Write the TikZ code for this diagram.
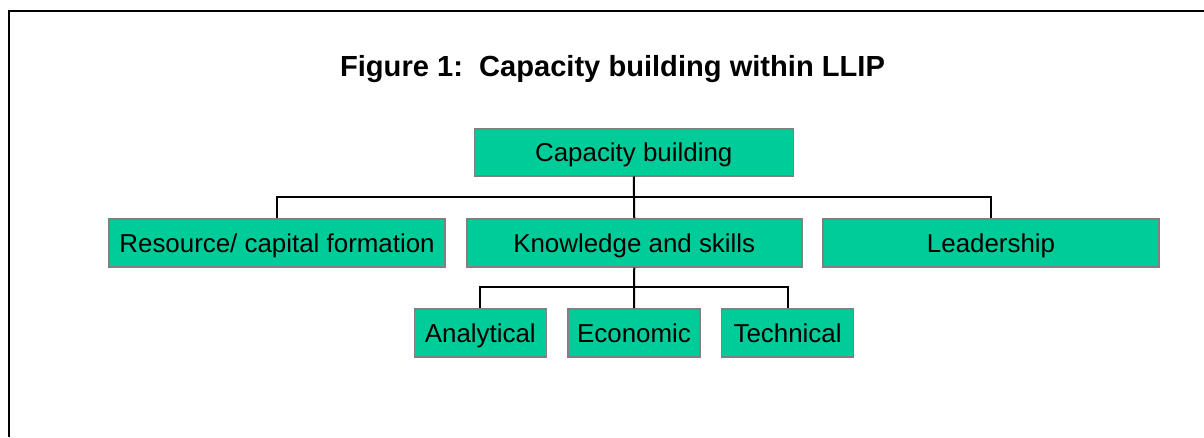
\documentclass[tikz,border=0pt]{standalone}
\usepackage{fontspec}
\setmainfont{Liberation Sans}
\definecolor{boxgreen}{RGB}{0,204,153}
\definecolor{boxedge}{RGB}{128,128,128}
\tikzset{
  cbox/.style={draw=boxedge, line width=1.5pt, fill=boxgreen, inner sep=0pt,
    font=\fontsize{25.9}{30}\selectfont, text height=18.5pt, text depth=0pt, anchor=north west},
  conn/.style={draw=black, line width=2pt},
}
\begin{document}
\begin{tikzpicture}[x=1pt,y=-1pt]
\useasboundingbox (0,0) rectangle (1204,437);
\draw[line width=2.2pt] (1204,11) -- (9,11) -- (9,437);
\node[anchor=base, font=\fontsize{29.1}{34}\selectfont\bfseries] (title) at (612.5,76) {Figure 1:\ \ Capacity building within LLIP};
\node[cbox, minimum width=319pt, minimum height=47pt] (cb) at (473.5,128) {Capacity building};
\node[cbox, minimum width=336pt, minimum height=48pt] (res) at (108.3,218) {Resource/ capital formation};
\node[cbox, minimum width=335pt, minimum height=48pt] (ks) at (466,218) {Knowledge and skills};
\node[cbox, minimum width=336pt, minimum height=48pt] (lead) at (822.3,218) {Leadership};
\node[cbox, minimum width=132pt, minimum height=48pt] (an) at (413.5,308) {Analytical};
\node[cbox, minimum width=132pt, minimum height=48pt] (ec) at (567.3,308) {Economic};
\node[cbox, minimum width=132pt, minimum height=48pt] (te) at (720.8,308) {Technical};
\coordinate (h1) at (632.7,196.7);
\coordinate (h2) at (632.7,286.7);
\draw[conn] (cb.south) -- (ks.north);
\draw[conn] (res.north) |- (h1) -| (lead.north);
\draw[conn] (ks.south) -- (ec.north);
\draw[conn] (an.north) |- (h2) -| (te.north);
\end{tikzpicture}
\end{document}
